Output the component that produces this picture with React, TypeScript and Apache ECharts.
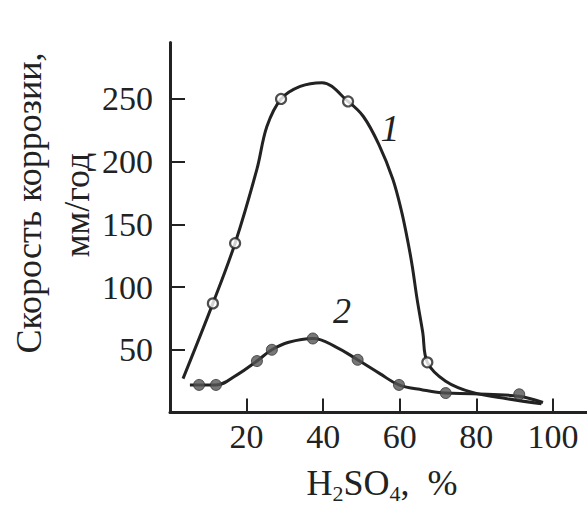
import React, { useEffect, useRef } from "react";
import * as echarts from "echarts";

// Tick labels
const xTicks = [20, 40, 60, 80, 100];
const yTicks = [50, 100, 150, 200, 250];

const curve1Trace: [number, number][] = [
  [3.4, 27], [11.2, 87], [17, 135], [22.7, 194], [25.3, 228], [29, 250], [34, 260],
  [39.7, 263], [46.5, 248], [50.5, 236], [54.5, 214], [58.2, 186], [60.5, 160],
  [62.2, 135], [63.3, 116], [64.5, 91], [66, 64], [67.2, 40], [72, 25], [79, 16],
  [88, 11], [97, 7],
];
const curve1Points: [number, number][] = [
  [11.2, 87], [17, 135], [29, 250], [46.5, 248], [67.2, 40],
];

// Curve 2 (smooth trace) and its measured points (filled circles)
const curve2Trace: [number, number][] = [
  [5.2, 22], [7.6, 22], [12, 22], [17.5, 30], [22.7, 41], [26.6, 50], [31, 56],
  [37.3, 59], [43.5, 52], [49, 42], [54.8, 31], [59.8, 22], [66, 18], [72, 15.5],
  [79, 15], [91, 13], [97.4, 8],
];
const curve2Points: [number, number][] = [
  [7.6, 22], [12, 22], [22.7, 41], [26.6, 50], [37.3, 59], [49, 42], [59.8, 22],
  [72, 15.5], [91.2, 14.5],
];

const INK = "#222222";
const FONT = '"Liberation Serif", "Times New Roman", serif';

export default function App() {
  const ref = useRef<HTMLDivElement>(null);
  useEffect(() => {
    if (!ref.current) return;
    const chart = echarts.init(ref.current, undefined, { renderer: "svg" });
    chart.setOption({
      animation: false,
      backgroundColor: "#ffffff",
      grid: { left: 170, right: 0, top: 42.5, bottom: 93.5 },
      xAxis: {
        type: "value",
        min: 0,
        max: 108.9,
        splitLine: { show: false },
        axisLine: { show: true, onZero: false, lineStyle: { color: INK, width: 3 } },
        axisTick: {
          show: true,
          inside: true,
          length: 14,
          customValues: xTicks,
          lineStyle: { color: INK, width: 2 },
        },
        axisLabel: {
          customValues: xTicks,
          margin: 7,
          fontSize: 34,
          fontFamily: FONT,
          color: INK,
        },
      },
      yAxis: {
        type: "value",
        min: 0,
        max: 295,
        splitLine: { show: false },
        axisLine: { show: true, onZero: false, lineStyle: { color: INK, width: 3 } },
        axisTick: {
          show: true,
          inside: true,
          length: 15,
          customValues: yTicks,
          lineStyle: { color: INK, width: 2 },
        },
        axisLabel: {
          customValues: yTicks,
          margin: 17,
          fontSize: 34,
          fontFamily: FONT,
          color: INK,
        },
      },
      series: [
        {
          type: "line",
          data: curve1Trace,
          smooth: 0.35,
          showSymbol: false,
          lineStyle: { color: INK, width: 3 },
          z: 2,
        },
        {
          type: "line",
          data: curve2Trace,
          smooth: 0.4,
          showSymbol: false,
          lineStyle: { color: INK, width: 3 },
          z: 2,
        },
        {
          type: "scatter",
          data: curve1Points,
          symbol: "circle",
          symbolSize: 10,
          itemStyle: { color: "#ffffff", borderColor: INK, borderWidth: 2.2 },
          z: 3,
        },
        {
          type: "scatter",
          data: curve2Points,
          symbol: "circle",
          symbolSize: 11,
          itemStyle: { color: "#555555", borderColor: "#333333", borderWidth: 1 },
          z: 3,
        },
      ],
      graphic: [
        {
          type: "text",
          x: 29,
          y: 203,
          rotation: Math.PI / 2,
          style: {
            text: "Скорость коррозии,",
            fontSize: 36,
            fontFamily: FONT,
            fill: INK,
            align: "center",
            verticalAlign: "middle",
          },
        },
        {
          type: "text",
          x: 77,
          y: 205,
          rotation: Math.PI / 2,
          style: {
            text: "мм/год",
            fontSize: 36,
            fontFamily: FONT,
            fill: INK,
            align: "center",
            verticalAlign: "middle",
          },
        },
        {
          type: "text",
          x: 382,
          y: 483,
          style: {
            text: "{a|H}{s|2}{a|SO}{s|4}{a|,  %}",
            align: "center",
            verticalAlign: "middle",
            rich: {
              a: { fontSize: 36, fontFamily: FONT, fill: INK, lineHeight: 42, verticalAlign: "middle" },
              s: { fontSize: 22, fontFamily: FONT, fill: INK, lineHeight: 22, verticalAlign: "bottom" },
            },
          },
        },
        {
          type: "text",
          x: 390,
          y: 128,
          style: {
            text: "1",
            fontSize: 38,
            fontStyle: "italic",
            fontFamily: FONT,
            fill: INK,
            align: "center",
            verticalAlign: "middle",
          },
        },
        {
          type: "text",
          x: 342,
          y: 311,
          style: {
            text: "2",
            fontSize: 36,
            fontStyle: "italic",
            fontFamily: FONT,
            fill: INK,
            align: "center",
            verticalAlign: "middle",
          },
        },
      ],
    });
    return () => chart.dispose();
  }, []);
  return (
    <div
      ref={ref}
      style={{ position: "fixed", left: 0, top: 0, width: 587, height: 506, background: "#fff" }}
    />
  );
}
